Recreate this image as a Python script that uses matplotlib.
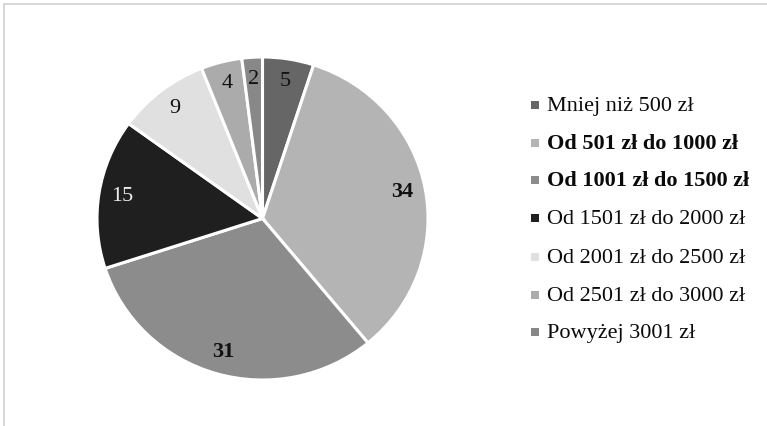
import matplotlib.pyplot as plt
from matplotlib.patches import Rectangle

plt.rcParams['font.family'] = ['Liberation Serif', 'DejaVu Serif']

categories = ["Mniej niż 500 zł", "Od 501 zł do 1000 zł", "Od 1001 zł do 1500 zł",
              "Od 1501 zł do 2000 zł", "Od 2001 zł do 2500 zł",
              "Od 2501 zł do 3000 zł", "Powyżej 3001 zł"]
values = [5, 34, 31, 15, 9, 4, 2]
colors = ["#666666", "#b4b4b4", "#8c8c8c", "#1f1f1f", "#e0e0e0", "#ababab", "#888888"]
label_colors = ["#111111", "#111111", "#111111", "#eeeeee", "#111111", "#111111", "#111111"]
bold = [False, True, True, False, False, False, False]

fig = plt.figure(figsize=(7.67, 4.26), dpi=100)
fig.patches.append(Rectangle((4 / 767, -0.1), 1.2, (426 - 4) / 426 + 0.1,
                             transform=fig.transFigure, fill=False,
                             edgecolor="#d0d0d0", linewidth=1.2))

ax = fig.add_axes([97 / 767, 1 - 380 / 426, 331 / 767, 323 / 426])
wedges, texts = ax.pie(values, colors=colors, startangle=90, counterclock=False,
                       labels=[str(v) for v in values], labeldistance=0.86,
                       wedgeprops=dict(edgecolor="white", linewidth=2.2),
                       textprops=dict(fontsize=16))
for t, b, c in zip(texts, bold, label_colors):
    t.set_ha("center")
    t.set_va("center")
    t.set_color(c)
    if b:
        t.set_fontweight("bold")
ax.set_aspect("auto")
ax.set_xlim(-1.0, 1.0)
ax.set_ylim(-1.0, 1.0)

# legend
ys = [105, 143, 180, 218, 257, 295, 332]
for name, c, b, y in zip(categories, colors, bold, ys):
    fig.patches.append(Rectangle((531 / 767, 1 - (y + 4) / 426), 8 / 767, 8 / 426,
                                 transform=fig.transFigure, facecolor=c,
                                 edgecolor="none"))
    fig.text(547 / 767, 1 - (y + 6) / 426, name, fontsize=16, va="baseline", ha="left",
             color="#0a0a0a", fontweight="bold" if b else "normal")

fig.savefig("out.png", dpi=100)
